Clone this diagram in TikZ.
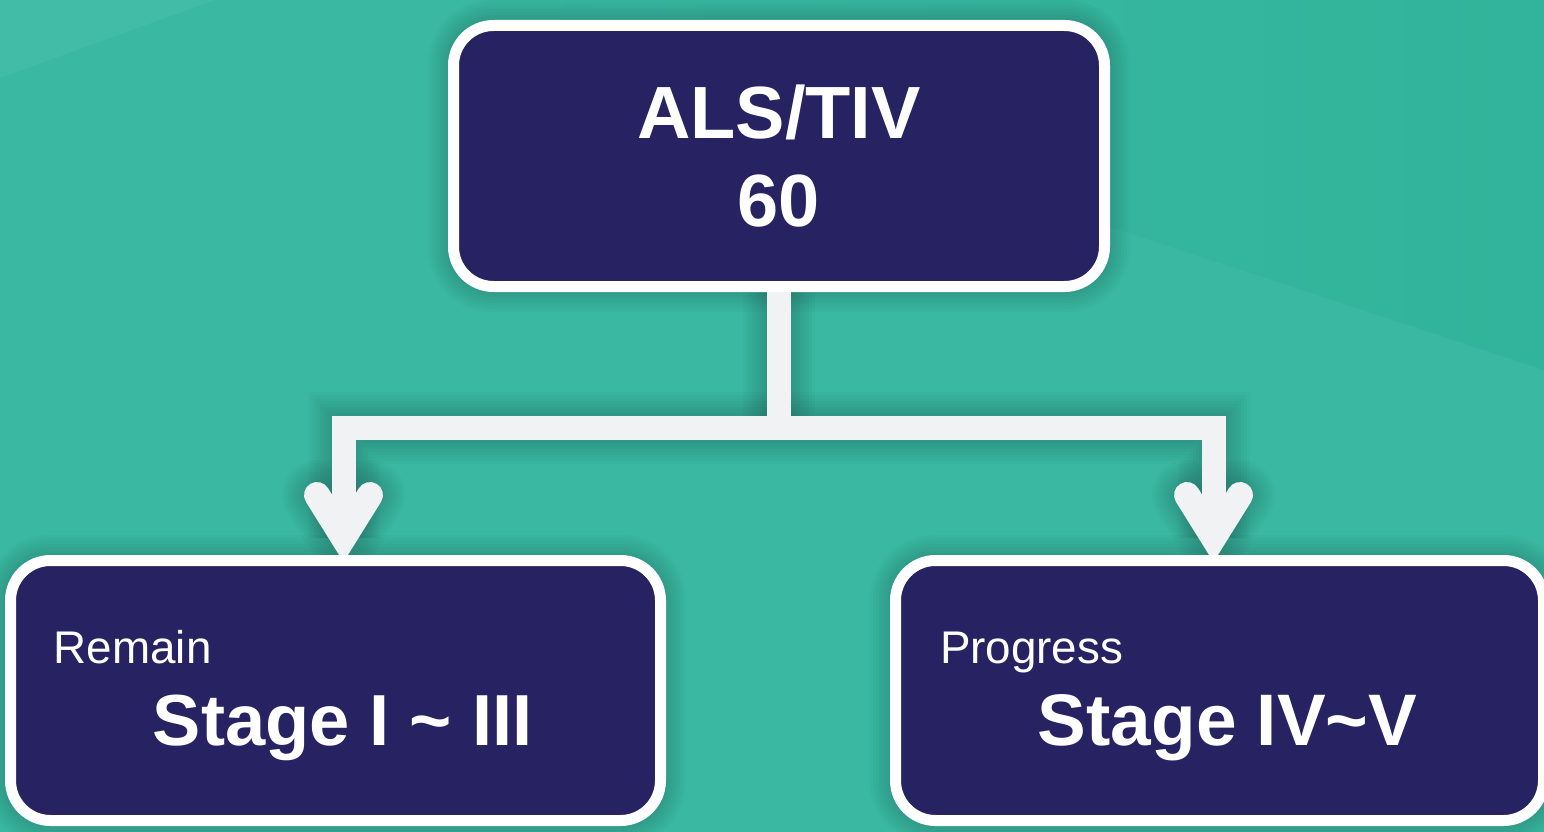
\documentclass[tikz,border=0pt]{standalone}
\usepackage{fontspec}
\setmainfont{Liberation Sans}
\definecolor{bgteal}{HTML}{3BB8A2}
\definecolor{bgdark}{HTML}{31B49B}
\definecolor{bglight}{HTML}{42BCA6}
\definecolor{navy}{HTML}{272262}
\definecolor{connw}{HTML}{F1F2F4}
\tikzset{
  stagebox/.style={draw=white, line width=11pt, fill=navy, rounded corners=40pt,
    minimum width=650pt, minimum height=260pt, inner sep=0pt},
  refbox/.style={draw=none, fill=none, line width=11pt, minimum width=650pt, minimum height=260pt, inner sep=0pt},
  conn/.style={draw=connw, line width=24pt},
  arrowhead/.style={draw=connw, line width=26pt, line cap=round, line join=miter},
  connshadow/.style={draw=black, opacity=0.018, line width=#1},
  smalllbl/.style={text=white, inner sep=0pt, anchor=base west, font=\fontsize{45.8}{52}\selectfont},
  biglbl/.style={text=white, inner sep=0pt, anchor=base west, font=\fontsize{#1}{#1}\selectfont\bfseries},
}
\begin{document}
\begin{tikzpicture}[x=1pt, y=-1pt]
\clip (0,0) rectangle (1544,832);
% background
\fill[bgteal] (0,0) rectangle (1544,832);
\shade[left color=bgteal, right color=bgdark] (423,0) -- (1544,0) -- (1544,370) -- cycle;
\fill[bglight] (0,0) -- (215,0) -- (0,78) -- cycle;

% box positions
\coordinate (ctop) at (779,156);
\coordinate (cleft) at (335.5,690.5);
\coordinate (cright) at (1219.5,690.5);

\node[refbox, minimum width=651pt, minimum height=261pt] (topref) at (ctop) {};
\node[refbox] (leftref) at (cleft) {};
\node[refbox, minimum width=648pt] (rightref) at (cright) {};

\coordinate (j) at (779,428);
\coordinate (lt) at ([xshift=8pt, yshift=-8pt]leftref.north);
\coordinate (rt) at ([xshift=-6pt, yshift=-8pt]rightref.north);

% soft shadows (offset right and down)
\begin{scope}[shift={(7,9)}]
  \foreach \w in {40,34,28,22,16,10,4}{
    \foreach \b in {topref,leftref,rightref}{
      \draw[connshadow=\w pt, rounded corners=44pt] (\b.south west) rectangle (\b.north east);
    }
  }
\end{scope}
\begin{scope}[shift={(9,9)}]
  \foreach \w in {72,66,60,54,48,42,36,30,24}{
    \draw[connshadow=\w pt] (topref.south) -- (j);
    \draw[connshadow=\w pt] ([shift={(0,-25.5)}]lt) |- (j) -| ([shift={(0,-25.5)}]rt);
  }
  \foreach \w in {70,64,58,52,46,40,34,28}{
    \draw[connshadow=\w pt, line cap=round, line join=round] ([shift={(-26.5,-68)}]lt) -- ([shift={(0,-25.5)}]lt) -- ([shift={(26.5,-68)}]lt);
    \draw[connshadow=\w pt, line cap=round, line join=round] ([shift={(-26.5,-68)}]rt) -- ([shift={(0,-25.5)}]rt) -- ([shift={(26.5,-68)}]rt);
  }
\end{scope}

% connectors
\draw[conn] (topref.south) -- (j);
\draw[conn] ([shift={(0,-25.5)}]lt) |- (j) -| ([shift={(0,-25.5)}]rt);
\draw[arrowhead] ([shift={(-26.5,-68)}]lt) -- ([shift={(0,-25.5)}]lt) -- ([shift={(26.5,-68)}]lt);
\draw[arrowhead] ([shift={(-26.5,-68)}]rt) -- ([shift={(0,-25.5)}]rt) -- ([shift={(26.5,-68)}]rt);

% boxes
\node[stagebox, minimum width=651pt, minimum height=261pt, align=center, text=white,
      font=\fontsize{74}{88}\selectfont\bfseries] (top) at (ctop) {ALS/TIV\\60};
\node[stagebox] (left) at (cleft) {};
\node[stagebox, minimum width=648pt] (right) at (cright) {};

% labels
\node[smalllbl] (remain) at (53.5,663.3) {Remain};
\node[biglbl=72.3] (stage1) at (152.6,745) {Stage I \textasciitilde{} III};
\node[smalllbl] (progress) at (939.8,663.3) {Progress};
\node[biglbl=73] (stage2) at (1037.6,745) {Stage IV\textasciitilde{}V};
\end{tikzpicture}
\end{document}
